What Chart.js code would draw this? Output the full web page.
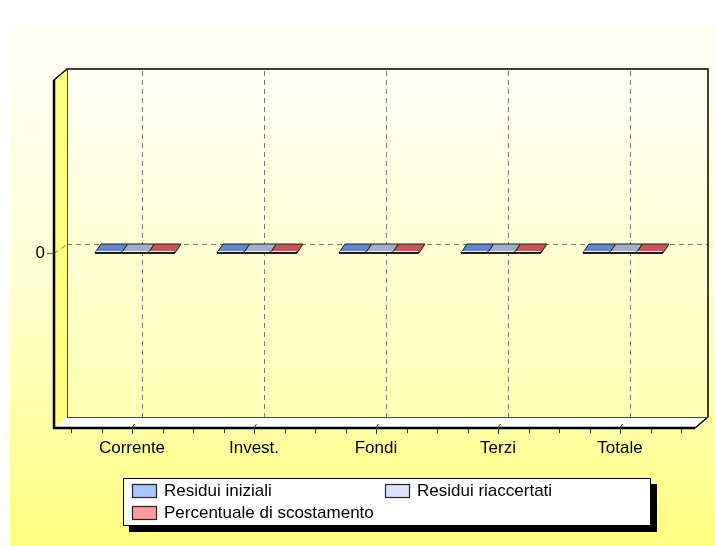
<!DOCTYPE html>
<html>
<head>
<meta charset="utf-8">
<script src="https://cdn.jsdelivr.net/npm/chart.js@4/dist/chart.umd.min.js"></script>
<style>
html,body{margin:0;padding:0;background:#fff;}
#wrap{width:715px;height:546px;}
</style>
</head>
<body>
<div id="wrap"><canvas id="c" width="715" height="546"></canvas></div>
<script>
const categories = ['Corrente', 'Invest.', 'Fondi', 'Terzi', 'Totale'];
const residuiIniziali = [0, 0, 0, 0, 0];
const residuiRiaccertati = [0, 0, 0, 0, 0];
const percentualeScostamento = [0, 0, 0, 0, 0];
const yTickValues = [0];
const seriesLabels = ['Residui iniziali', 'Residui riaccertati', 'Percentuale di scostamento'];
const barTopColors = ['#6486cc', '#a5aec9', '#c45858'];
const legendColors = ['#a8c4ff', '#dce4fc', '#ff9c9c'];

const FONT = '"Liberation Sans", Arial, sans-serif';
// 3D geometry
const WALL = {dx: 13, dy: -11, extraL: 17, extraR: 14};
const BAR = {dx: 6, dy: -9, shift: 3};

const deco = {
  id: 'deco',
  beforeDraw(chart) {
    const ctx = chart.ctx;
    ctx.save();
    ctx.fillStyle = '#ffffff';
    ctx.fillRect(0, 0, chart.width, chart.height);
    const g = ctx.createLinearGradient(0, 20, 0, 546);
    g.addColorStop(0, '#fffffb');
    g.addColorStop(0.5, '#ffffd2');
    g.addColorStop(1, '#ffff80');
    ctx.fillStyle = g;
    ctx.fillRect(10, 20, chart.width - 10, chart.height - 20);
    ctx.restore();
  },
  beforeDatasetsDraw(chart) {
    const ctx = chart.ctx, a = chart.chartArea;
    const x = chart.scales.x, y = chart.scales.y;
    const fl = a.left - WALL.extraL, fr = a.right + WALL.extraR, ft = a.top, fb = a.bottom;
    const bl = fl + WALL.dx, br = fr + WALL.dx, bt = ft + WALL.dy, bb = fb + WALL.dy;
    ctx.save();
    // back wall
    const g = ctx.createLinearGradient(0, bt, 0, bb);
    g.addColorStop(0, '#fffff6');
    g.addColorStop(1, '#ffffb4');
    ctx.fillStyle = g;
    ctx.fillRect(bl, bt, br - bl, bb - bt);
    // left wall
    ctx.fillStyle = '#ffff80';
    ctx.beginPath();
    ctx.moveTo(fl, ft); ctx.lineTo(bl, bt); ctx.lineTo(bl, bb); ctx.lineTo(fl, fb); ctx.closePath();
    ctx.fill();
    // floor
    ctx.fillStyle = '#ffffff';
    ctx.beginPath();
    ctx.moveTo(fl, fb); ctx.lineTo(bl, bb); ctx.lineTo(br, bb); ctx.lineTo(fr, fb); ctx.closePath();
    ctx.fill();
    // grid lines (dashed, back wall)
    ctx.strokeStyle = '#7a7a7a';
    ctx.lineWidth = 1;
    ctx.setLineDash([5, 4]);
    categories.forEach((c, i) => {
      const px = Math.round(x.getPixelForValue(i) + 10) + 0.5;
      ctx.beginPath(); ctx.moveTo(px, bt + 2); ctx.lineTo(px, bb); ctx.stroke();
    });
    yTickValues.forEach(v => {
      const py = Math.round(y.getPixelForValue(v) + WALL.dy + 1) + 0.5;
      ctx.beginPath(); ctx.moveTo(bl, py); ctx.lineTo(br, py); ctx.stroke();
      ctx.beginPath(); ctx.moveTo(fl, py + 9); ctx.lineTo(bl, py); ctx.stroke();
    });
    ctx.setLineDash([]);
    // outlines
    ctx.strokeStyle = '#000';
    ctx.lineWidth = 1.5;
    ctx.beginPath();
    ctx.moveTo(fl, ft); ctx.lineTo(bl, bt); ctx.lineTo(br, bt); ctx.lineTo(br, bb); ctx.lineTo(fr, fb);
    ctx.stroke();
    ctx.strokeStyle = '#444';
    ctx.lineWidth = 1;
    ctx.beginPath(); ctx.moveTo(bl, bb + 0.5); ctx.lineTo(br, bb + 0.5); ctx.stroke();
    ctx.beginPath(); ctx.moveTo(bl + 0.5, bt); ctx.lineTo(bl + 0.5, bb); ctx.stroke();
    ctx.strokeStyle = '#000';
    ctx.lineWidth = 2.5;
    ctx.beginPath(); ctx.moveTo(fl, ft); ctx.lineTo(fl, fb); ctx.lineTo(fr, fb); ctx.stroke();
    ctx.restore();
  },
  afterDatasetsDraw(chart) {
    const ctx = chart.ctx;
    const y0 = chart.scales.y.getPixelForValue(0);
    ctx.save();
    chart.data.datasets.forEach((ds, di) => {
      const meta = chart.getDatasetMeta(di);
      meta.data.forEach(el => {
        const l = el.x - el.width / 2 + BAR.shift, r = el.x + el.width / 2 + BAR.shift;
        const top = Math.min(el.y, y0) - 1, bot = Math.max(el.y, y0) - 1;
        ctx.strokeStyle = '#1a1a1a';
        ctx.lineWidth = 1;
        if (bot - top > 0.5) {
          ctx.fillStyle = legendColors[di];
          ctx.fillRect(l, top, r - l, bot - top);
          ctx.strokeRect(l, top, r - l, bot - top);
          ctx.beginPath();
          ctx.moveTo(r, top); ctx.lineTo(r + BAR.dx, top + BAR.dy); ctx.lineTo(r + BAR.dx, bot + BAR.dy); ctx.lineTo(r, bot); ctx.closePath();
          ctx.fillStyle = barTopColors[di]; ctx.fill(); ctx.stroke();
        }
        ctx.fillStyle = barTopColors[di];
        ctx.beginPath();
        ctx.moveTo(l, top); ctx.lineTo(r, top); ctx.lineTo(r + BAR.dx, top + BAR.dy); ctx.lineTo(l + BAR.dx, top + BAR.dy); ctx.closePath();
        ctx.fill(); ctx.stroke();
        ctx.strokeStyle = '#f4f4f4';
        ctx.beginPath(); ctx.moveTo(l + 1, top - 1.5); ctx.lineTo(r - 1, top - 1.5); ctx.stroke();
        ctx.strokeStyle = '#000';
        ctx.lineWidth = 1.5;
        ctx.beginPath(); ctx.moveTo(l, top); ctx.lineTo(r, top); ctx.stroke();
      });
    });
    ctx.restore();
  },
  afterDraw(chart) {
    const ctx = chart.ctx, a = chart.chartArea;
    const x = chart.scales.x, y = chart.scales.y;
    const fl = a.left - WALL.extraL, fb = a.bottom;
    ctx.save();
    // x ticks
    const step = x.getPixelForValue(1) - x.getPixelForValue(0);
    ctx.strokeStyle = '#333';
    ctx.lineWidth = 1;
    categories.forEach((c, i) => {
      const cx = x.getPixelForValue(i);
      for (let k = -2; k <= 2; k++) {
        if (i > 0 && k === -2) continue;
        const px = Math.round(cx + k * step / 4) + 0.5;
        ctx.beginPath();
        if (k === 0) { ctx.moveTo(px + 2, fb - 4); ctx.lineTo(px, fb - 1); ctx.lineTo(px, fb + 6); }
        else { ctx.moveTo(px, fb + 1); ctx.lineTo(px, fb + 5); }
        ctx.stroke();
      }
    });
    // x labels
    ctx.fillStyle = '#000';
    ctx.font = '17px ' + FONT;
    ctx.textAlign = 'center';
    ctx.textBaseline = 'middle';
    categories.forEach((c, i) => ctx.fillText(c, x.getPixelForValue(i), fb + 20));
    // y ticks and labels
    ctx.textAlign = 'right';
    yTickValues.forEach(v => {
      const py = Math.round(y.getPixelForValue(v)) - 0.5;
      ctx.strokeStyle = '#555';
      ctx.beginPath(); ctx.moveTo(fl - 7, py); ctx.lineTo(fl, py); ctx.stroke();
      ctx.fillText(String(v), fl - 9, py);
    });
    // legend
    const L = {x: 123, y: 478, w: 528, h: 48};
    ctx.fillStyle = '#000';
    ctx.fillRect(L.x + 6, L.y + 6, L.w, L.h);
    ctx.fillStyle = '#fff';
    ctx.fillRect(L.x, L.y, L.w, L.h);
    ctx.strokeStyle = '#000';
    ctx.lineWidth = 1;
    ctx.strokeRect(L.x + 0.5, L.y + 0.5, L.w - 1, L.h - 1);
    const pos = [[132, 491], [385, 491], [132, 513]];
    ctx.font = '17px ' + FONT;
    ctx.textAlign = 'left';
    chart.data.datasets.forEach((ds, i) => {
      const [sx, sy] = pos[i];
      ctx.fillStyle = legendColors[i];
      ctx.fillRect(sx, sy - 7, 25, 14);
      ctx.strokeStyle = '#222';
      ctx.lineWidth = 1.2;
      ctx.strokeRect(sx + 0.5, sy - 6.5, 24, 13);
      ctx.fillStyle = '#000';
      ctx.fillText(ds.label, sx + 32, sy);
    });
    ctx.restore();
  }
};

new Chart(document.getElementById('c'), {
  type: 'bar',
  data: {
    labels: categories,
    datasets: [
      {label: seriesLabels[0], data: residuiIniziali, backgroundColor: 'rgba(0,0,0,0)'},
      {label: seriesLabels[1], data: residuiRiaccertati, backgroundColor: 'rgba(0,0,0,0)'},
      {label: seriesLabels[2], data: percentualeScostamento, backgroundColor: 'rgba(0,0,0,0)'}
    ]
  },
  options: {
    responsive: false,
    devicePixelRatio: 1,
    animation: false,
    layout: {padding: {left: 71, right: 34, top: 80, bottom: 118}},
    datasets: {bar: {categoryPercentage: 0.656, barPercentage: 1}},
    scales: {
      x: {display: false, offset: true},
      y: {display: false, min: -1, max: 1}
    },
    plugins: {legend: {display: false}, tooltip: {enabled: false}}
  },
  plugins: [deco]
});
</script>
</body>
</html>
